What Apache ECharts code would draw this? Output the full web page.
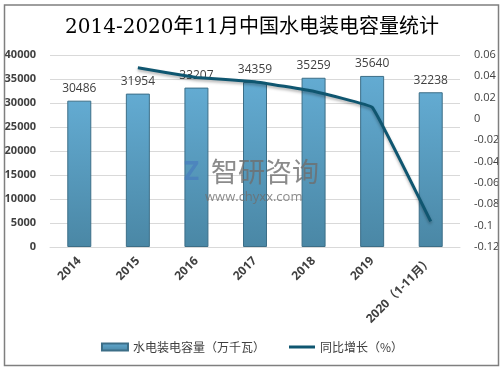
<!DOCTYPE html>
<html>
<head>
<meta charset="utf-8">
<script src="https://cdn.jsdelivr.net/npm/echarts@6/dist/echarts.min.js"></script>
<style>
html,body{margin:0;padding:0;background:#fff;}
#c{width:504px;height:371px;}
</style>
</head>
<body>
<div id="c"></div>
<script>
var categories = ['2014', '2015', '2016', '2017', '2018', '2019', '2020（1-11月）'];
var capacity = [30486, 31954, 33207, 34359, 35259, 35640, 32238];
var growth = [null, 0.048, 0.039, 0.035, 0.026, 0.011, -0.096];
var leftTicks = {min: 0, max: 40000, interval: 5000};
var rightTicks = {min: -0.12, max: 0.06, interval: 0.02};
var titleText = '2014-2020年11月中国水电装电容量统计';
var seriesNames = ['水电装电容量（万千瓦）', '同比增长（%）'];

var chart = echarts.init(document.getElementById('c'));
var labelFont = "'Open Sans','Noto Sans CJK SC',sans-serif";
chart.setOption({
  animation: false,
  backgroundColor: '#fff',
  title: {
    text: titleText,
    left: 'center',
    top: 13,
    textStyle: {fontFamily: "'DejaVu Serif','Noto Sans CJK SC',serif", fontSize: 20, fontWeight: 'normal', color: '#000'}
  },
  graphic: [
    {type: 'rect', shape: {x: 4.5, y: 5, width: 494, height: 360.5}, style: {fill: 'none', stroke: '#7f7f7f', lineWidth: 1.5}, z: 100},
    {type: 'text', left: 211, top: 158, style: {text: '智研咨询', fontSize: 27, fontFamily: "'Noto Sans CJK SC'", fill: 'rgba(110,110,110,0.8)'}, z: 50},
    {type: 'text', left: 184, top: 160, style: {text: 'Z', fontSize: 26, fontWeight: 'bold', fontFamily: labelFont, fill: 'rgba(70,120,190,0.6)'}, z: 50},
    {type: 'text', left: 205, top: 191, style: {text: 'www.chyxx.com', fontSize: 13, fontFamily: labelFont, fill: 'rgba(110,110,110,0.8)'}, z: 50}
  ],
  legend: {
    bottom: 13,
    left: 'center',
    itemWidth: 26,
    itemHeight: 7,
    itemGap: 24,
    textStyle: {fontSize: 12, color: '#404040', fontFamily: "'Noto Sans CJK SC',sans-serif"},
    data: [
      {name: seriesNames[0], icon: 'rect'},
      {name: seriesNames[1], icon: 'path://M0,0 L26,0 L26,3 L0,3 Z'}
    ]
  },
  grid: {left: 50, right: 44, top: 55, bottom: 124},
  xAxis: {
    type: 'category',
    data: categories,
    axisLine: {lineStyle: {color: '#d9d9d9'}},
    axisTick: {show: false},
    axisLabel: {rotate: 45, fontSize: 12, fontWeight: 'bold', color: '#404040', fontFamily: labelFont, margin: 12, interval: 0}
  },
  yAxis: [
    {
      type: 'value', min: leftTicks.min, max: leftTicks.max, interval: leftTicks.interval,
      axisLine: {show: false}, axisTick: {show: false},
      splitLine: {lineStyle: {color: '#d9d9d9'}},
      axisLabel: {fontSize: 11, fontWeight: 'bold', color: '#404040', fontFamily: labelFont, margin: 14,
        formatter: function (v) { return String(v); }}
    },
    {
      type: 'value', min: rightTicks.min, max: rightTicks.max, interval: rightTicks.interval,
      axisLine: {show: false}, axisTick: {show: false}, splitLine: {show: false},
      axisLabel: {fontSize: 11, color: '#404040', fontFamily: labelFont, margin: 14,
        formatter: function (v) { return String(Number(v.toFixed(2))); }}
    }
  ],
  series: [
    {
      name: seriesNames[0],
      type: 'bar',
      data: capacity,
      barWidth: 24,
      itemStyle: {
        color: new echarts.graphic.LinearGradient(0, 0, 0, 1, [
          {offset: 0, color: '#63abd2'},
          {offset: 1, color: '#4a87a5'}
        ]),
        borderColor: '#3c6e87',
        borderWidth: 1
      },
      label: {show: true, position: 'top', distance: 6, fontSize: 12, color: '#404040', fontFamily: labelFont}
    },
    {
      name: seriesNames[1],
      type: 'line',
      yAxisIndex: 1,
      data: growth,
      smooth: 0.06,
      showSymbol: false,
      symbol: 'none',
      lineStyle: {color: '#0f5670', width: 3, shadowColor: 'rgba(0,0,0,0.3)', shadowBlur: 3, shadowOffsetY: 2},
      itemStyle: {color: '#0f5670'},
      z: 5
    }
  ]
});
</script>
</body>
</html>
